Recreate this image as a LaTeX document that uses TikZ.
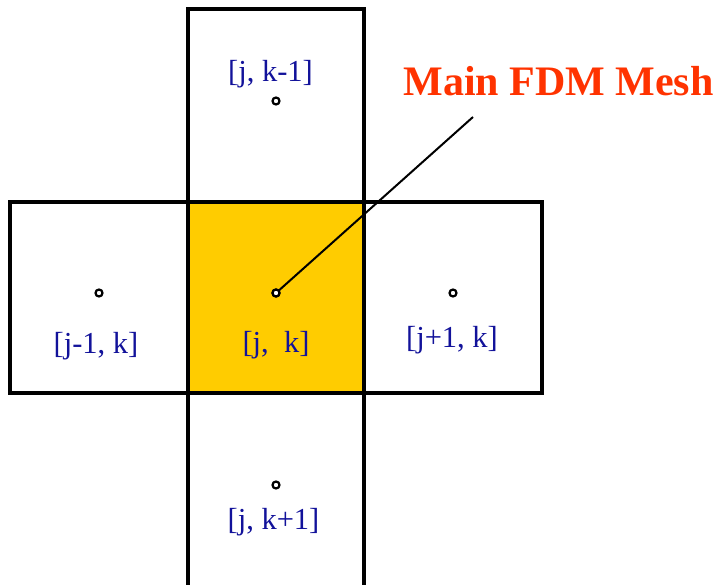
\documentclass[tikz,border=0pt]{standalone}
\usepackage{fontspec}
\setmainfont{Liberation Serif}
\usepackage{xcolor}
\usetikzlibrary{positioning}
\definecolor{meshYellow}{HTML}{FFCC00}
\definecolor{meshBlue}{HTML}{12129A}
\definecolor{meshRed}{HTML}{FF3300}
\tikzset{
  cell/.style={draw=black,line width=3.6pt,minimum width=176pt,minimum height=191pt,inner sep=0pt},
  nodept/.style={circle,draw=black,fill=white,line width=2.2pt,minimum size=7pt,inner sep=0pt},
  idx/.style={text=meshBlue,anchor=base,inner sep=0pt,font=\fontsize{30.5}{36}\selectfont},
}

\begin{document}
\begin{tikzpicture}[x=1pt,y=-1pt]
  \useasboundingbox (0,0) rectangle (717,585);

  % the five cells
  \node[cell,fill=meshYellow] (cC) at (276,297.5) {};
  \node[cell,minimum height=193pt] (cN) at (276,105.5) {};
  \node[cell,minimum height=194pt] (cS) at (276,490) {};
  \node[cell,minimum width=178pt] (cW) at (99,297.5) {};
  \node[cell,minimum width=178pt] (cE) at (453,297.5) {};

  % title and leader
  \node[text=meshRed,anchor=base,inner sep=0pt,font=\fontsize{42}{50}\selectfont\bfseries]
    (title) at (558.5,96) {Main FDM Mesh};
  \coordinate (lead) at (473,117);
  \node[nodept] (pC) at (276,293) {};
  \draw[line width=2pt] (pC.center) -- (lead);

  % grid points
  \node[nodept] at (pC) {};
  \node[nodept] (pN) at (276,101) {};
  \node[nodept] (pS) at (276,485) {};
  \node[nodept] (pW) at (99,293) {};
  \node[nodept] (pE) at (453,293) {};

  % labels
  \node[idx] (lN) at (270.5,82) {[j, k-1]};
  \node[idx] (lW) at (96,353) {[j-1, k]};
  \node[idx] (lC) at (276,352) {[j,\ \ k]};
  \node[idx] (lE) at (452,347) {[j+1, k]};
  \node[idx] (lS) at (273.5,529) {[j, k+1]};
\end{tikzpicture}
\end{document}
